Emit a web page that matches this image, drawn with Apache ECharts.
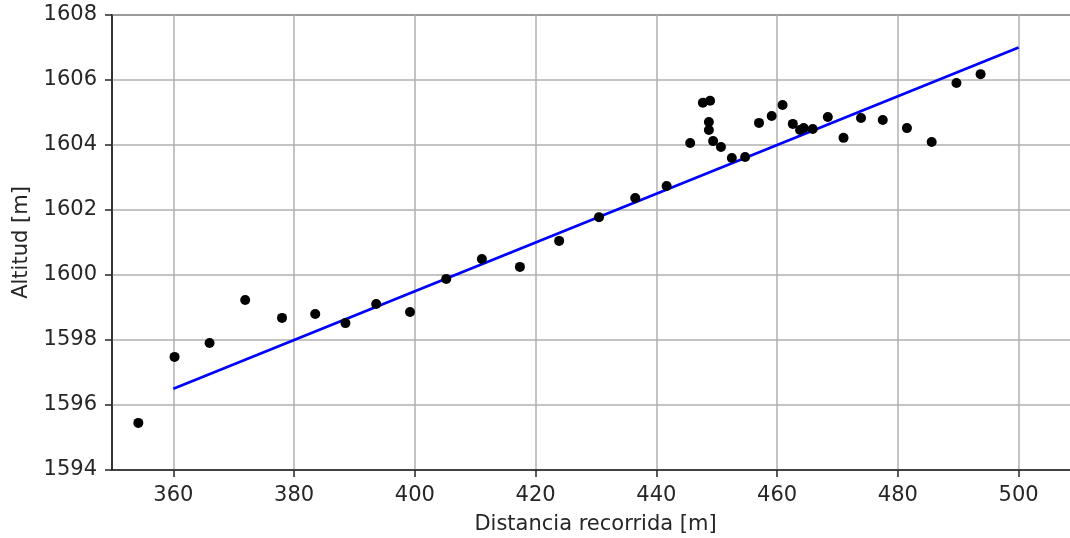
<!DOCTYPE html>
<html>
<head>
<meta charset="utf-8">
<script src="https://cdn.jsdelivr.net/npm/echarts@6/dist/echarts.min.js"></script>
<style>
html,body{margin:0;padding:0;background:#fff;overflow:hidden;}
#chart{width:1070px;height:538px;}
</style>
</head>
<body>
<div id="chart"></div>
<script>
// Measured points: distance [m], altitude [m]
const distancia = [354.2, 360.2, 366.0, 371.9, 378.0, 383.5, 388.5, 393.6, 399.2, 405.2,
  411.1, 417.4, 423.9, 430.5, 436.5, 441.7, 445.6, 447.7, 448.9, 448.7,
  448.7, 449.4, 450.7, 452.5, 454.7, 457.0, 459.1, 460.9, 462.6, 463.8,
  464.4, 465.9, 468.4, 471.0, 473.9, 477.5, 481.5, 485.6, 489.7, 493.7];
const altitud = [1595.45, 1597.48, 1597.91, 1599.23, 1598.68, 1598.80, 1598.52, 1599.11, 1598.86, 1599.88,
  1600.49, 1600.25, 1601.05, 1601.78, 1602.37, 1602.74, 1604.06, 1605.30, 1605.36, 1604.71,
  1604.46, 1604.12, 1603.94, 1603.60, 1603.63, 1604.68, 1604.89, 1605.23, 1604.65, 1604.46,
  1604.52, 1604.49, 1604.86, 1604.22, 1604.83, 1604.77, 1604.52, 1604.09, 1605.91, 1606.18];
// Fitted line endpoints
const ajusteX = [360, 500];
const ajusteY = [1596.5, 1607.0];
// Tick labels
const xTicks = [360, 380, 400, 420, 440, 460, 480, 500];
const yTicks = [1594, 1596, 1598, 1600, 1602, 1604, 1606, 1608];

const puntos = distancia.map((d, i) => [d, altitud[i]]);
const linea = ajusteX.map((d, i) => [d, ajusteY[i]]);

const FONT = 'DejaVu Sans';
const chart = echarts.init(document.getElementById('chart'), null, {renderer: 'canvas'});
chart.setOption({
  animation: false,
  backgroundColor: '#ffffff',
  grid: {left: 112, top: 15, width: 967, height: 455, outerBoundsMode: 'none',
    show: true, borderColor: '#262626', borderWidth: 1.5, containLabel: false},
  xAxis: {
    type: 'value', min: 349.84, max: 510,
    name: 'Distancia recorrida [m]', nameLocation: 'middle', nameGap: 44,
    nameTextStyle: {fontFamily: FONT, fontSize: 21, color: '#262626'},
    axisLine: {show: true, onZero: false, lineStyle: {color: '#262626', width: 1.5}},
    axisTick: {show: true, inside: false, length: 7, customValues: xTicks, lineStyle: {color: '#262626', width: 1.5}},
    axisLabel: {customValues: xTicks, margin: 15, fontFamily: FONT, fontSize: 21, color: '#262626', showMinLabel: true, showMaxLabel: true},
    splitLine: {show: true, lineStyle: {color: '#b0b0b0', width: 1.5}}
  },
  yAxis: {
    type: 'value', min: 1594, max: 1608, interval: 2,
    name: 'Altitud [m]', nameLocation: 'middle', nameGap: 80,
    nameTextStyle: {fontFamily: FONT, fontSize: 21, color: '#262626'},
    axisLine: {show: true, onZero: false, lineStyle: {color: '#262626', width: 1.5}},
    axisTick: {show: true, inside: false, length: 7, lineStyle: {color: '#262626', width: 1.5}},
    axisLabel: {margin: 15, fontFamily: FONT, fontSize: 21, color: '#262626',
      formatter: v => yTicks.includes(v) ? String(v) : ''},
    splitLine: {show: true, lineStyle: {color: '#b0b0b0', width: 1.5}}
  },
  series: [
    {type: 'line', data: linea, showSymbol: false, symbol: 'none', z: 2,
      lineStyle: {color: '#0000ff', width: 2.8}},
    {type: 'scatter', data: puntos, symbol: 'circle', symbolSize: 10, z: 3,
      itemStyle: {color: '#000000', opacity: 1}}
  ]
});
</script>
</body>
</html>
